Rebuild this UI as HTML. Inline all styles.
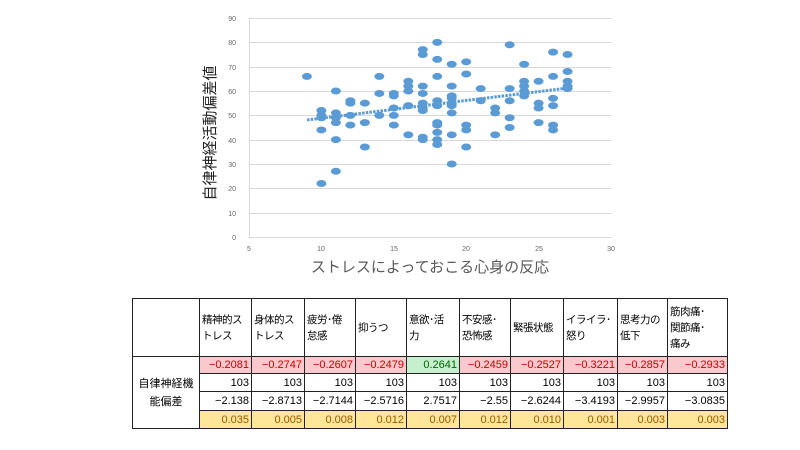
<!DOCTYPE html>
<html><head><meta charset="utf-8"><style>
body{margin:0;width:800px;height:450px;background:#fff;overflow:hidden;font-family:"Liberation Sans","Noto Sans CJK JP",sans-serif;}
svg{position:absolute;left:0;top:0}
table{position:absolute;left:132px;top:298px;border-collapse:collapse;font-size:11px;color:#000;table-layout:fixed;}
td{border:1px solid #222;padding:0 2px;overflow:hidden;}
tr.h td{height:57px;vertical-align:middle;line-height:16px;white-space:nowrap;font-size:10.5px;letter-spacing:-0.5px;}
td.n{text-align:right;height:16px;}
.r td.n{background:#f9c9cd;color:#c00;}
.r td.g{background:#c6efce;color:#060;}
.y td.n{background:#ffe699;color:#9c5700;}
</style></head><body>
<svg width="800" height="300" font-family="Liberation Sans, Noto Sans CJK JP, sans-serif">
<g stroke="#d9d9d9" stroke-width="1">
<line x1="249" x2="611" y1="18.5" y2="18.5"/><line x1="249" x2="611" y1="42.5" y2="42.5"/><line x1="249" x2="611" y1="67.5" y2="67.5"/><line x1="249" x2="611" y1="91.5" y2="91.5"/><line x1="249" x2="611" y1="115.5" y2="115.5"/><line x1="249" x2="611" y1="140.5" y2="140.5"/><line x1="249" x2="611" y1="164.5" y2="164.5"/><line x1="249" x2="611" y1="188.5" y2="188.5"/><line x1="249" x2="611" y1="213.5" y2="213.5"/>
</g>
<line x1="249.5" x2="249.5" y1="18" y2="237" stroke="#d9d9d9"/>
<line x1="249" x2="611" y1="237.5" y2="237.5" stroke="#d9d9d9"/>
<g font-size="7" fill="#666" text-anchor="end">
<text x="236" y="21">90</text><text x="236" y="45">80</text><text x="236" y="70">70</text><text x="236" y="94">60</text><text x="236" y="118">50</text><text x="236" y="143">40</text><text x="236" y="167">30</text><text x="236" y="191">20</text><text x="236" y="216">10</text><text x="236" y="240">0</text>
</g>
<g font-size="7" fill="#666" text-anchor="middle">
<text x="249" y="251">5</text><text x="321" y="251">10</text><text x="394" y="251">15</text><text x="466" y="251">20</text><text x="539" y="251">25</text><text x="611" y="251">30</text>
</g>
<text x="430" y="272" font-size="15" fill="#595959" text-anchor="middle">ストレスによっておこる心身の反応</text>
<text transform="translate(215,133) rotate(-90)" font-size="15" fill="#222" text-anchor="middle">自律神経活動偏差値</text>
<line x1="307" y1="120" x2="568" y2="88" stroke="#5b9bd5" stroke-width="3" stroke-dasharray="2.5 1.2"/>
<g fill="#5b9bd5" id="pts"></g>
</svg>
<script>
var d={9:[66],10:[52,50,49,44,22],11:[60,51,49,47,40,27],12:[56,55,50,46],13:[55,47,37],14:[66,59,50],15:[59,58,53,50,46],16:[64,62,60,54,42],17:[77,75,62,59,55,53,52,41,40],18:[80,73,66,56,54,47,46,43,40,38],19:[71,62,58,57,55,54,51,42,30],20:[72,67,46,44,37],21:[61,56],22:[53,51,42],23:[79,61,56,49,45],24:[71,64,62,60,58],25:[64,55,53,47],26:[76,66,57,54,46,44],27:[75,68,64,62,61]};
var g=document.getElementById('pts'),s='';
for(var x in d)d[x].forEach(function(y){s+='<ellipse cx="'+(249+(x-5)*14.48)+'" cy="'+(237-y*2.433)+'" rx="5" ry="3.5"/>';});
g.innerHTML=s;
</script>
<table>
<colgroup><col style="width:67px"><col style="width:52px"><col style="width:53px"><col style="width:51px"><col style="width:51px"><col style="width:53px"><col style="width:51px"><col style="width:53px"><col style="width:54px"><col style="width:50px"><col style="width:60px"></colgroup>
<tr class="h"><td></td><td>精神的ス<br>トレス</td><td>身体的ス<br>トレス</td><td>疲労･倦<br>怠感</td><td>抑うつ</td><td>意欲･活<br>力</td><td>不安感･<br>恐怖感</td><td>緊張状態</td><td>イライラ･<br>怒り</td><td>思考力の<br>低下</td><td>筋肉痛･<br>関節痛･<br>痛み</td></tr>
<tr class="r"><td rowspan="4" style="text-align:center;line-height:18px">自律神経機<br>能偏差</td><td class="n">−0.2081</td><td class="n">−0.2747</td><td class="n">−0.2607</td><td class="n">−0.2479</td><td class="n g">0.2641</td><td class="n">−0.2459</td><td class="n">−0.2527</td><td class="n">−0.3221</td><td class="n">−0.2857</td><td class="n">−0.2933</td></tr>
<tr><td class="n" style="height:17px">103</td><td class="n">103</td><td class="n">103</td><td class="n">103</td><td class="n">103</td><td class="n">103</td><td class="n">103</td><td class="n">103</td><td class="n">103</td><td class="n">103</td></tr>
<tr><td class="n" style="height:18px">−2.138</td><td class="n">−2.8713</td><td class="n">−2.7144</td><td class="n">−2.5716</td><td class="n">2.7517</td><td class="n">−2.55</td><td class="n">−2.6244</td><td class="n">−3.4193</td><td class="n">−2.9957</td><td class="n">−3.0835</td></tr>
<tr class="y"><td class="n" style="height:17px">0.035</td><td class="n">0.005</td><td class="n">0.008</td><td class="n">0.012</td><td class="n">0.007</td><td class="n">0.012</td><td class="n">0.010</td><td class="n">0.001</td><td class="n">0.003</td><td class="n">0.003</td></tr>
</table>
</body></html>
